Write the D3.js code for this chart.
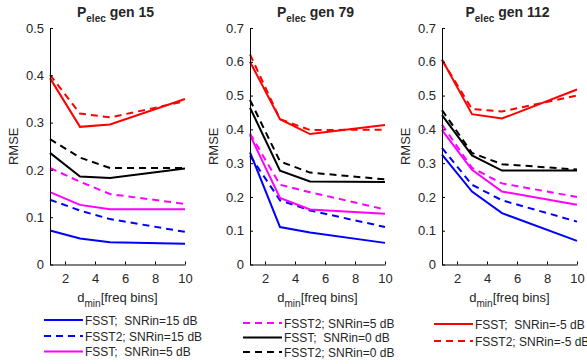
<!DOCTYPE html>
<html>
<head>
<meta charset="utf-8">
<script src="https://cdn.jsdelivr.net/npm/d3@7"></script>
<style>
  body { margin: 0; background: #fff; }
  svg text { font-family: Arial, "Liberation Sans", sans-serif; fill: #262626; }
</style>
</head>
<body>
<div id="chart"></div>
<script>
// x values (d_min in freq bins)
var dmin = [1, 3, 5, 10];
var xTicks = [2, 4, 6, 8, 10];

var seriesLabels = [
    "FSST;  SNRin=15 dB", "FSST2; SNRin=15 dB",
    "FSST;  SNRin=5 dB", "FSST2; SNRin=5 dB",
    "FSST;  SNRin=0 dB", "FSST2; SNRin=0 dB",
    "FSST;  SNRin=-5 dB", "FSST2; SNRin=-5 dB"
];

var genNames = ["15", "79", "112"];
var yMaxes = [0.5, 0.7, 0.7];

// RMSE values, one row per series (same order as seriesLabels)
var gen15 = [
    [0.072, 0.055, 0.047, 0.044],
    [0.137, 0.114, 0.096, 0.069],
    [0.153, 0.126, 0.117, 0.117],
    [0.204, 0.175, 0.149, 0.128],
    [0.236, 0.186, 0.183, 0.203],
    [0.265, 0.226, 0.204, 0.204],
    [0.394, 0.291, 0.296, 0.350],
    [0.401, 0.319, 0.311, 0.345]
];
var gen79 = [
    [0.332, 0.111, 0.095, 0.064],
    [0.322, 0.190, 0.160, 0.111],
    [0.383, 0.197, 0.163, 0.150],
    [0.388, 0.236, 0.214, 0.163],
    [0.464, 0.278, 0.246, 0.244],
    [0.487, 0.305, 0.272, 0.252],
    [0.600, 0.430, 0.386, 0.413],
    [0.622, 0.430, 0.398, 0.399]
];
var gen112 = [
    [0.325, 0.216, 0.152, 0.070],
    [0.345, 0.236, 0.190, 0.127],
    [0.398, 0.280, 0.216, 0.177],
    [0.414, 0.286, 0.240, 0.200],
    [0.442, 0.323, 0.278, 0.278],
    [0.457, 0.330, 0.297, 0.281],
    [0.607, 0.445, 0.432, 0.518],
    [0.605, 0.460, 0.453, 0.500]
];

// which legend entries sit under which panel
var legendGroups = [[0, 1, 2], [3, 4, 5], [6, 7]];

function init() {
    var w = 587, h = 364;
    var panelLeft = [50, 250, 442];
    var panelW = 135;
    var top = 28, bottom = 264.5;

    var colors = ["#0000ff", "#0000ff", "#ff00ff", "#ff00ff", "#000000", "#000000", "#ff0000", "#ff0000"];
    var dashed = function(i) { return i % 2 == 1; };

    var svg = d3.select("#chart")
        .append("svg")
        .attr("width", w)
        .attr("height", h);

    var allData = [gen15, gen79, gen112];

    allData.forEach(function(series, p) {
        var x0 = panelLeft[p];
        var xScale = d3.scaleLinear().domain([1, 10]).range([x0, x0 + panelW]);
        var yScale = d3.scaleLinear().domain([0, yMaxes[p]]).range([bottom, top]);

        var g = svg.append("g");

        // data lines
        var line = d3.line()
            .x(function(d, i) { return xScale(dmin[i]); })
            .y(function(d) { return yScale(d); });

        series.forEach(function(vals, i) {
            g.append("path")
                .datum(vals)
                .attr("d", line)
                .attr("fill", "none")
                .attr("stroke", colors[i])
                .attr("stroke-width", 2)
                .attr("stroke-dasharray", dashed(i) ? "7,5" : null);
        });

        // axes, ticks pointing inward
        var xAxis = d3.axisBottom(xScale).tickValues(xTicks).tickSizeInner(-3).tickSizeOuter(0).tickPadding(9);
        var yAxis = d3.axisLeft(yScale).ticks(Math.round(yMaxes[p] * 10))
            .tickFormat(function(d) { return d === 0 ? "0" : d3.format(".1f")(d); })
            .tickSizeInner(-3).tickSizeOuter(0).tickPadding(6);

        var gx = g.append("g")
            .attr("transform", "translate(0," + bottom + ")")
            .call(xAxis);
        var gy = g.append("g")
            .attr("transform", "translate(" + x0 + ",0)")
            .call(yAxis);
        [gx, gy].forEach(function(a) {
            a.selectAll("path,line").attr("stroke", "#000");
            a.selectAll("text").style("font-size", "13px").style("fill", "#262626");
        });

        // title P_elec gen N
        var cx = x0 + panelW / 2;
        var title = g.append("text")
            .attr("x", cx - 2)
            .attr("y", 17)
            .attr("text-anchor", "middle")
            .style("font-size", "14px")
            .style("font-weight", "bold");
        title.append("tspan").text("P");
        title.append("tspan").attr("dy", 5).style("font-size", "10px").text("elec");
        title.append("tspan").attr("dy", -5).text(" gen " + genNames[p]);

        // x label
        var xl = g.append("text")
            .attr("x", cx)
            .attr("y", 302)
            .attr("text-anchor", "middle")
            .style("font-size", "13px");
        xl.append("tspan").text("d");
        xl.append("tspan").attr("dy", 5).style("font-size", "10px").text("min");
        xl.append("tspan").attr("dy", -5).text("[freq bins]");

        // y label
        g.append("text")
            .attr("transform", "translate(" + (x0 - 32) + "," + ((top + bottom) / 2) + ") rotate(-90)")
            .attr("text-anchor", "middle")
            .style("font-size", "13px")
            .text("RMSE");

        // legend under this panel
        var legX = [44, 243, 434][p];
        var legY = [[320, 336, 351.5], [323, 337.5, 352], [324, 341]][p];
        legendGroups[p].forEach(function(si, k) {
            var yy = legY[k];
            g.append("line")
                .attr("x1", legX)
                .attr("x2", legX + 39)
                .attr("y1", yy)
                .attr("y2", yy)
                .attr("stroke", colors[si])
                .attr("stroke-width", 2)
                .attr("stroke-dasharray", dashed(si) ? "7,5" : null);
            g.append("text")
                .attr("x", legX + 41)
                .attr("y", yy + 4.5)
                .style("font-size", "12px")
                .style("white-space", "pre")
                .attr("xml:space", "preserve")
                .text(seriesLabels[si]);
        });
    });
}

window.onload = init;
</script>
</body>
</html>
